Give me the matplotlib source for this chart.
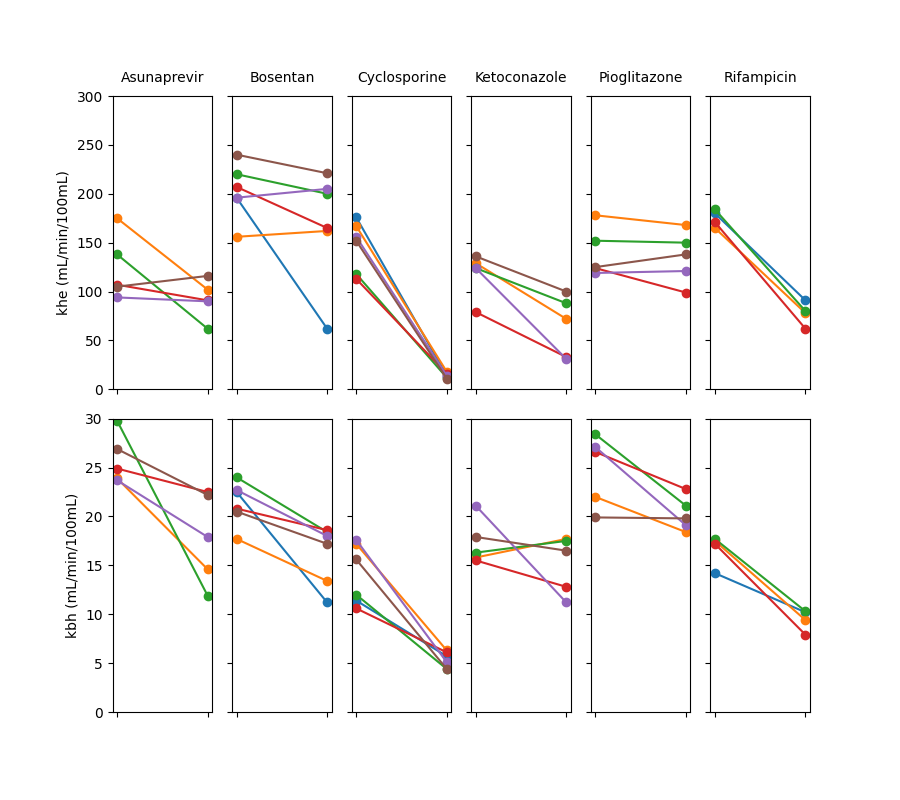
import numpy as np
import matplotlib
matplotlib.use("Agg")
import matplotlib.pyplot as plt

drugs = ["Asunaprevir", "Bosentan", "Cyclosporine", "Ketoconazole", "Pioglitazone", "Rifampicin"]
nan = np.nan

# khe values: per series (subject), per drug: (control, treated)
khe_s1 = [(nan, nan), (196, 62), (176, 14), (nan, nan), (nan, nan), (180, 91)]
khe_s2 = [(175, 102), (156, 162), (167, 18), (129, 72), (178, 168), (165, 78)]
khe_s3 = [(138, 62), (220, 200), (118, 12), (124, 88), (152, 150), (184, 80)]
khe_s4 = [(107, 91), (207, 165), (113, 16), (79, 33), (124, 99), (171, 62)]
khe_s5 = [(94, 90), (196, 205), (156, 14), (124, 31), (119, 121), (nan, nan)]
khe_s6 = [(105, 116), (240, 221), (152, 11), (136, 100), (125, 138), (nan, nan)]

# kbh values
kbh_s1 = [(nan, nan), (22.5, 11.2), (11.4, 5.7), (nan, nan), (nan, nan), (14.2, 10.2)]
kbh_s2 = [(23.9, 14.6), (17.7, 13.4), (17.2, 6.3), (15.8, 17.7), (22.0, 18.4), (17.5, 9.4)]
kbh_s3 = [(29.8, 11.9), (24.0, 18.4), (12.0, 4.4), (16.3, 17.5), (28.4, 21.1), (17.7, 10.3)]
kbh_s4 = [(24.9, 22.5), (20.8, 18.6), (10.6, 6.1), (15.5, 12.8), (26.6, 22.8), (17.2, 7.9)]
kbh_s5 = [(23.7, 17.9), (22.7, 18.0), (17.6, 5.1), (21.1, 11.2), (27.1, 19.1), (nan, nan)]
kbh_s6 = [(26.9, 22.2), (20.5, 17.2), (15.6, 4.4), (17.9, 16.5), (19.9, 19.8), (nan, nan)]

khe_series = [khe_s1, khe_s2, khe_s3, khe_s4, khe_s5, khe_s6]
kbh_series = [kbh_s1, kbh_s2, kbh_s3, kbh_s4, kbh_s5, kbh_s6]
colors = ["C0", "C1", "C2", "C3", "C4", "C5"]

fig, axes = plt.subplots(2, 6, figsize=(9, 8), dpi=100, sharey="row")
fig.subplots_adjust(left=0.125, right=0.9, top=0.88, bottom=0.11, wspace=0.2, hspace=0.1)

for row, (series, ylim, ylabel) in enumerate([
        (khe_series, (0, 300), "khe (mL/min/100mL)"),
        (kbh_series, (0, 30), "kbh (mL/min/100mL)")]):
    for j, drug in enumerate(drugs):
        ax = axes[row, j]
        for s, c in zip(series, colors):
            vals = s[j]
            if np.all(np.isnan(vals)):
                continue
            ax.plot([0, 1], vals, "o-", color=c)
        ax.set_xticks([0, 1])
        ax.set_xticklabels([])
        ax.set_ylim(*ylim)
        if row == 0:
            ax.set_title(drug, fontsize=10, pad=10)
    axes[row, 0].set_ylabel(ylabel)

fig.savefig("out.png", dpi=100)
